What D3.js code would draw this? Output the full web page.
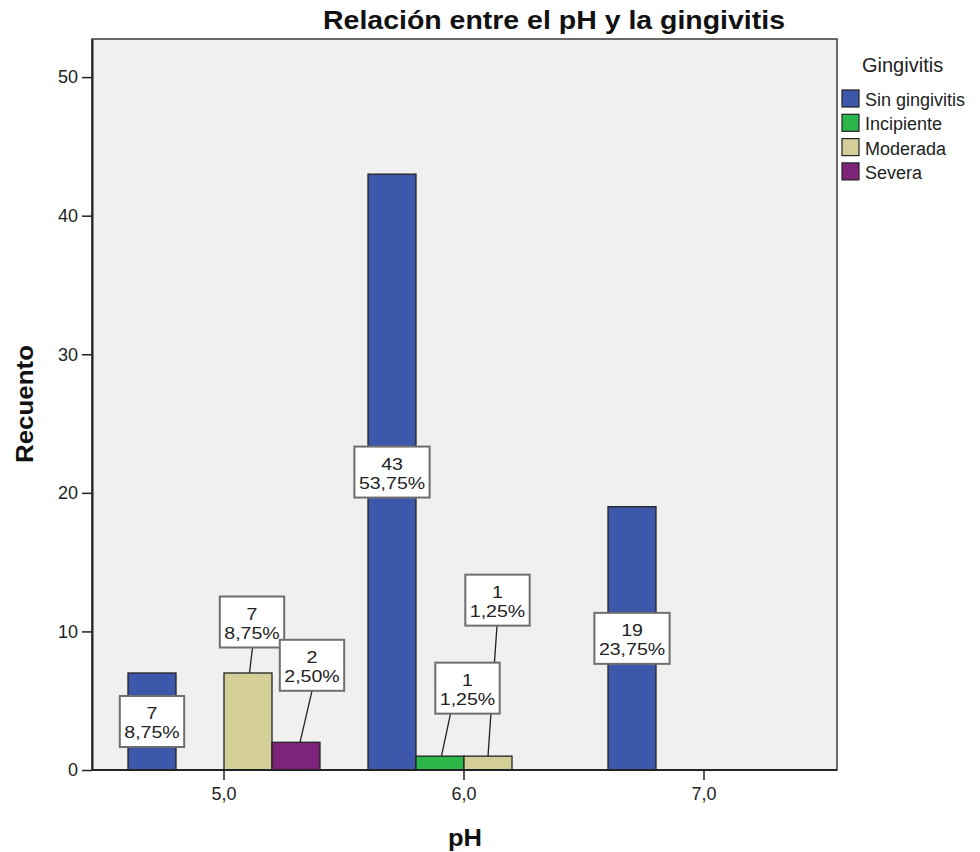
<!DOCTYPE html>
<html><head><meta charset="utf-8">
<script src="https://cdn.jsdelivr.net/npm/d3@7"></script>
<style>body{margin:0;background:#fff}svg{display:block;font-family:"Liberation Sans",Arial,sans-serif}</style>
</head><body><svg id="c" width="980" height="852"></svg>
<script>
const categories = ["5,0", "6,0", "7,0"];
const series = ["Sin gingivitis", "Incipiente", "Moderada", "Severa"];
const colors = ["#3d58ab", "#2db74b", "#d4cf98", "#7e237a"];
const sinGingivitis = [7, 43, 19];
const incipiente = [0, 1, 0];
const moderada = [7, 1, 0];
const severa = [2, 0, 0];
const yTicks = [0, 10, 20, 30, 40, 50];
const total = 80;

// label placement (layout, px): inside bar or offset callout
const labelLayout = {
  "5,0|Sin gingivitis": {inside: true},
  "6,0|Sin gingivitis": {inside: true},
  "7,0|Sin gingivitis": {inside: true},
  "5,0|Moderada": {dx: 4, dy: -51, l1: 0.5, l2: 1.5},
  "5,0|Severa": {dx: 16, dy: -77, l1: 0, l2: 4},
  "6,0|Incipiente": {dx: 27.5, dy: -68, l1: -17, l2: 1.5},
  "6,0|Moderada": {dx: 9.5, dy: -156, l1: -0.5, l2: 0}
};

const values = [sinGingivitis, incipiente, moderada, severa];
const data = [];
categories.forEach((c, i) => series.forEach((s, j) => {
  if (values[j][i] > 0) data.push({cat: c, ser: s, v: values[j][i], color: colors[j]});
}));

const svg = d3.select("#c");
const L = 92, R = 837, T = 39, B = 770;
const y = d3.scaleLinear().domain([0, 52.75]).range([B, T]);
const x0 = d3.scaleBand().domain(categories).range([104, 824]);
const x1 = d3.scaleBand().domain(series).range([24, 216]);

svg.append("rect").attr("x", L).attr("y", T).attr("width", R - L).attr("height", B - T)
  .attr("fill", "#f0f0f0").attr("stroke", "#3a3a3a").attr("stroke-width", 1.5);

// bars
svg.append("g").selectAll("rect").data(data).join("rect")
  .attr("x", d => x0(d.cat) + x1(d.ser))
  .attr("y", d => y(d.v))
  .attr("width", x1.bandwidth())
  .attr("height", d => B - y(d.v))
  .attr("fill", d => d.color).attr("stroke", "#222").attr("stroke-width", 1.3);

// axes
const yAxis = svg.append("g").attr("transform", `translate(${L},0)`)
  .call(d3.axisLeft(y).tickValues(yTicks).tickSize(10).tickSizeOuter(0).tickPadding(4).tickFormat(d3.format("d")));
const xAxis = svg.append("g").attr("transform", `translate(0,${B})`)
  .call(d3.axisBottom(x0).tickSize(10).tickSizeOuter(0).tickPadding(7));
[yAxis, xAxis].forEach(a => {
  a.select(".domain").attr("stroke", "#222").attr("stroke-width", 2);
  a.selectAll(".tick line").attr("stroke", "#222").attr("stroke-width", 1.5);
  a.selectAll(".tick text").attr("fill", "#222").style("font-size", "18px")
    .style("font-family", '"Liberation Sans",Arial,sans-serif');
});
xAxis.select(".domain").attr("d", `M${L},0H${R}`);

// labels
const fmt = v => d3.format(".2f")(v / total * 100).replace(".", ",") + "%";
const SX = 1.15;
const lineLayer = svg.append("g");
const boxLayer = svg.append("g");
function stretchText(g, x, yy, str) {
  const t = g.append("text").attr("transform", `translate(${x},${yy}) scale(${SX},1)`)
    .attr("text-anchor", "middle").style("font-size", "17px").attr("fill", "#222").text(str);
  return t.node().getComputedTextLength() * SX;
}
data.forEach(d => {
  const lay = labelLayout[d.cat + "|" + d.ser];
  if (!lay) return;
  const bcx = x0(d.cat) + x1(d.ser) + x1.bandwidth() / 2;
  const top = y(d.v);
  let cx, cy;
  if (lay.inside) { cx = bcx; cy = (top + B) / 2; }
  else { cx = bcx + lay.dx; cy = top + lay.dy; }
  const h = 51;
  if (!lay.inside) {
    lineLayer.append("line").attr("x1", cx + lay.l1).attr("y1", cy + h / 2)
      .attr("x2", bcx + lay.l2).attr("y2", top).attr("stroke", "#222").attr("stroke-width", 1.3);
  }
  const g = boxLayer.append("g");
  const rect = g.append("rect");
  const w1 = stretchText(g, cx, cy - 2, d.v);
  const w2 = stretchText(g, cx, cy + 17, fmt(d.v));
  const w = Math.max(w1, w2) + 9;
  rect.attr("x", cx - w / 2).attr("y", cy - h / 2).attr("width", w).attr("height", h)
    .attr("fill", "#fff").attr("stroke", "#6e6e6e").attr("stroke-width", 2);
});

// titles
svg.append("text").attr("x", 554).attr("y", 29).attr("text-anchor", "middle")
  .attr("textLength", 462).attr("lengthAdjust", "spacingAndGlyphs")
  .style("font-size", "26px").style("font-weight", "bold").attr("fill", "#111")
  .text("Relación entre el pH y la gingivitis");
svg.append("text").attr("transform", "translate(33,404) rotate(-90)").attr("text-anchor", "middle")
  .attr("textLength", 118).attr("lengthAdjust", "spacingAndGlyphs")
  .style("font-size", "23px").style("font-weight", "bold").attr("fill", "#111").text("Recuento");
svg.append("text").attr("x", 465).attr("y", 846).attr("text-anchor", "middle")
  .attr("textLength", 34).attr("lengthAdjust", "spacingAndGlyphs")
  .style("font-size", "23px").style("font-weight", "bold").attr("fill", "#111").text("pH");

// legend
const leg = svg.append("g");
leg.append("text").attr("x", 862).attr("y", 72).style("font-size", "20px").attr("fill", "#222").text("Gingivitis");
series.forEach((s, i) => {
  const yy = 90 + i * 24.3;
  leg.append("rect").attr("x", 842).attr("y", yy).attr("width", 17).attr("height", 17)
    .attr("fill", colors[i]).attr("stroke", "#222").attr("stroke-width", 1.2);
  leg.append("text").attr("x", 865).attr("y", yy + 16).style("font-size", "18px").attr("fill", "#222").text(s);
});
</script></body></html>
